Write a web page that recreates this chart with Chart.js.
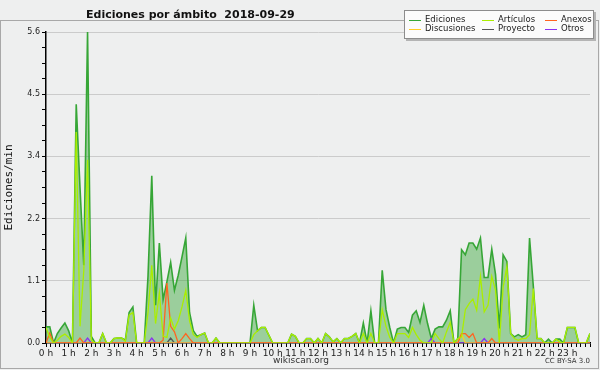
<!DOCTYPE html>
<html>
<head>
<meta charset="utf-8">
<script src="https://cdn.jsdelivr.net/npm/chart.js@4/dist/chart.umd.min.js"></script>
<style>
html,body{margin:0;padding:0;background:#eeefef;}
#wrap{position:relative;width:600px;height:370px;overflow:hidden;background:#eeefef;}
#c{position:absolute;left:0;top:0;}
#frame{position:absolute;left:0;top:20px;width:597px;height:347px;border:1px solid #a8a8a8;pointer-events:none;}
.t{position:absolute;white-space:nowrap;font-family:"DejaVu Sans",sans-serif;color:#222;}
#title{left:86px;top:8px;font-size:11px;font-weight:bold;color:#111;}
#legend{position:absolute;left:404px;top:10px;width:188px;height:27px;background:#fbfbfb;border:1px solid #8c8c8c;box-shadow:2px 2px 0 #b4b4b4;}
.li{position:absolute;height:10px;}
.ll{position:absolute;top:5px;width:12px;height:1px;}
.lt{position:absolute;left:16px;top:-1px;font-family:"DejaVu Sans",sans-serif;font-size:8.5px;color:#222;white-space:nowrap;}
#site{left:0;width:602px;text-align:center;top:355px;font-size:9px;color:#333;}
#lic{right:10px;top:357px;font-size:7px;color:#333;}
</style>
</head>
<body>
<div id="wrap">
<canvas id="c" width="600" height="370"></canvas>
<div id="frame"></div>
<div id="title" class="t"></div>
<div id="legend"></div>
<div id="site" class="t"></div>
<div id="lic" class="t"></div>
</div>
<script>
// ---- texts ----
const chartTitle = 'Ediciones por ámbito\u00a0\u00a02018-09-29';
const yTitle = 'Ediciones/min';
const siteText = 'wikiscan.org';
const licText = 'CC BY-SA 3.0';

// ---- series (one value every 10 minutes, 00:00 .. 24:00) ----
const seriesNames = ['Ediciones','Artículos','Anexos','Discusiones','Proyecto','Otros'];
const seriesColors = ['#36a636','#aaee00','#ff6420','#ffcc22','#555555','#8a30f0'];

const ediciones = [
 0.29,0.29,0,0.17,0.27,0.36,0.22,0,4.3,2.8,
 1.4,5.6,0.12,0,0,0.17,0,0,0.08,0.09,
 0.09,0.05,0.55,0.65,0,0,0,1.2,3.01,0.68,
 1.8,0.78,1.1,1.45,0.95,1.22,1.55,1.89,0.55,0.22,
 0.12,0.15,0.18,0,0,0.09,0,0,0,0,
 0,0,0,0,0,0.68,0.22,0.28,0.28,0.14,
 0,0,0,0,0,0.16,0.12,0,0,0.08,
 0.08,0,0.08,0,0.17,0.11,0.02,0.08,0,0.08,
 0.08,0.12,0.17,0,0.36,0,0.58,0,0,1.31,
 0.6,0.28,0,0.25,0.28,0.28,0.19,0.5,0.58,0.37,
 0.68,0.35,0.08,0.25,0.29,0.29,0.41,0.58,0,0.08,
 1.68,1.59,1.8,1.8,1.69,1.89,1.18,1.18,1.69,1.23,
 0.26,1.59,1.47,0.17,0.11,0.15,0.11,0.15,1.89,1.02,
 0.08,0.08,0,0.07,0,0.07,0.07,0,0.28,0.28,
 0.28,0,0,0,0.17
];
const articulos = [
 0.28,0.1,0,0.05,0.12,0.16,0.1,0,3.8,0.3,
 1.3,3.3,0.05,0,0,0.17,0,0,0.08,0.09,
 0.09,0.03,0.5,0.55,0,0,0,0.55,1.4,0.35,
 0.9,0.12,0.1,0.45,0.25,0.4,0.65,0.95,0.4,0.15,
 0.1,0.15,0.18,0,0,0.09,0,0,0,0,
 0,0,0,0,0,0.15,0.22,0.28,0.28,0.14,
 0,0,0,0,0,0.16,0.12,0,0,0.08,
 0.08,0,0.08,0,0.17,0.11,0.02,0.08,0,0.08,
 0.08,0.12,0.17,0,0.17,0,0.17,0,0,0.6,
 0.3,0.1,0,0.17,0.17,0.17,0.1,0.28,0.15,0.05,
 0,0,0,0.17,0.08,0,0.2,0.37,0,0.08,
 0.11,0.6,0.71,0.79,0.59,1.2,0.56,0.68,1.2,0.95,
 0,1.0,1.38,0.17,0.08,0.05,0.08,0.08,0.15,0.98,
 0.08,0.08,0,0,0,0.07,0.02,0,0.28,0.28,
 0.28,0,0,0,0.17
];
const anexos = [
 0,0.18,0,0,0,0,0,0,0,0.09,
 0,0,0,0,0,0,0,0,0,0,
 0,0,0,0,0,0,0,0,0,0,
 0,0.05,1.08,0.3,0.2,0,0.08,0.17,0.08,0,
 0,0,0,0,0,0,0,0,0,0,
 0,0,0,0,0,0,0,0,0,0,
 0,0,0,0,0,0,0,0,0,0,
 0,0,0,0,0,0,0,0,0,0,
 0,0,0,0,0,0,0,0,0,0,
 0,0,0,0,0,0,0,0,0,0,
 0,0,0,0,0,0,0,0,0,0,
 0.17,0.17,0.1,0.17,0,0,0,0,0.08,0,
 0,0,0,0,0,0,0,0,0,0,
 0,0,0,0,0,0,0,0,0,0,
 0,0,0,0,0
];
const discusiones = [
 0,0,0,0,0,0,0,0,0,0,
 0,0,0,0,0,0,0,0,0,0,
 0,0,0,0,0,0,0,0,0,0,
 0,0,0,0,0,0,0,0,0,0,
 0,0,0,0,0,0,0,0,0,0,
 0,0,0,0,0,0,0,0,0,0,
 0,0,0,0,0,0,0,0,0,0,
 0,0,0,0,0,0,0,0,0,0,
 0,0,0,0,0,0,0,0,0,0,
 0,0,0,0,0,0,0,0,0,0,
 0,0,0,0,0,0,0,0,0,0,
 0.17,0,0,0,0,0,0,0,0,0,
 0,0,0,0,0,0,0,0,0,0,
 0,0,0,0,0,0,0,0,0,0,
 0,0,0,0,0
];
const proyecto = [
 0,0,0,0,0,0,0,0,0,0,
 0,0,0,0,0,0,0,0,0,0,
 0,0,0,0,0,0,0,0,0,0,
 0,0,0,0.09,0,0,0,0,0,0,
 0,0,0,0,0,0,0,0,0,0,
 0,0,0,0,0,0,0,0,0,0,
 0,0,0,0,0,0,0,0,0,0,
 0,0,0,0,0,0,0,0,0,0,
 0,0,0,0,0,0,0,0,0,0,
 0,0,0,0,0,0,0,0,0,0,
 0,0,0,0,0,0,0,0,0,0,
 0,0,0,0,0,0,0,0,0,0,
 0,0,0,0,0,0,0,0,0,0,
 0,0,0,0,0,0,0,0,0,0,
 0,0,0,0,0
];
const otros = [
 0,0,0,0,0,0,0,0,0,0,
 0,0.09,0,0,0,0,0,0,0,0,
 0,0,0,0,0,0,0,0,0.09,0,
 0,0,0,0,0,0,0,0,0,0,
 0,0,0,0,0,0,0,0,0,0,
 0,0,0,0,0,0,0,0,0,0,
 0,0,0,0,0,0,0,0,0,0,
 0,0,0,0,0,0,0,0,0,0,
 0,0,0,0,0,0,0,0,0,0,
 0,0,0,0,0,0,0,0,0,0,
 0,0,0.08,0,0,0,0,0,0,0,
 0,0,0,0,0,0,0.08,0,0,0,
 0,0,0,0,0,0,0,0,0,0,
 0,0,0,0,0,0,0,0,0,0,
 0,0,0,0,0
];
const seriesValues = [ediciones, articulos, anexos, discusiones, proyecto, otros];

// time of each sample, in hours (10-minute steps)
const stepMinutes = 10;
const times = ediciones.map((_, i) => i * stepMinutes / 60);

// axis ticks
const xTicks = Array.from({length: 121}, (_, k) => k / 5);          // every 12 minutes
const yTicks = Array.from({length: 21}, (_, k) => Math.round(k * 28) / 100); // minor every 0.28
const yMax = 5.6;

// ---- texts into DOM ----
document.getElementById('title').textContent = chartTitle;
document.getElementById('site').textContent = siteText;
document.getElementById('lic').textContent = licText;
const leg = document.getElementById('legend');
const colX = [4, 77, 140];
const rowY = [4, 13];
seriesNames.forEach((name, i) => {
  const it = document.createElement('div');
  it.className = 'li';
  it.style.left = colX[i % 3] + 'px';
  it.style.top = rowY[Math.floor(i / 3)] + 'px';
  const ln = document.createElement('div');
  ln.className = 'll';
  ln.style.background = seriesColors[i];
  const tx = document.createElement('div');
  tx.className = 'lt';
  tx.textContent = name;
  it.appendChild(ln); it.appendChild(tx);
  leg.appendChild(it);
});

// ---- chart ----
const drawOrder = [6, 1, 2, 3, 5, 4];
const datasets = seriesNames.map((name, s) => ({
  label: name,
  data: seriesValues[s].map((v, i) => ({x: times[i], y: v})),
  borderColor: seriesColors[s],
  backgroundColor: s === 0 ? 'rgba(40,160,40,0.42)' : seriesColors[s],
  borderWidth: s === 0 ? 1.6 : 1.3,
  fill: s === 0 ? 'origin' : false,
  pointRadius: 0,
  tension: 0,
  order: drawOrder[s]
}));

new Chart(document.getElementById('c'), {
  type: 'line',
  data: {datasets},
  options: {
    responsive: false,
    devicePixelRatio: 1,
    animation: false,
    events: [],
    layout: {padding: {left: 0, top: 32, right: 10, bottom: 0}},
    plugins: {legend: {display: false}, tooltip: {enabled: false}, title: {display: false}},
    scales: {
      x: {
        type: 'linear', min: 0, max: 24,
        afterBuildTicks: ax => { ax.ticks = xTicks.map(v => ({value: v})); },
        afterFit: s => { s.height = 27; },
        ticks: {
          autoSkip: false, maxRotation: 0, minRotation: 0, padding: 1,
          font: {family: 'DejaVu Sans', size: 9}, color: '#222',
          callback: v => (Math.abs(v - Math.round(v)) < 1e-6 && v < 24) ? Math.round(v) + ' h' : ''
        },
        grid: {drawOnChartArea: false, tickLength: 4, tickColor: '#000', lineWidth: 1},
        border: {color: '#000', width: 1.5}
      },
      y: {
        min: 0, max: yMax,
        afterBuildTicks: ax => { ax.ticks = yTicks.map(v => ({value: v})); },
        afterFit: s => { s.width = 46; },
        ticks: {
          autoSkip: false, padding: 2,
          font: {family: 'DejaVu Sans', size: 8}, color: '#222',
          callback: (v, i) => (i % 4 === 0) ? v.toFixed(1) : ''
        },
        grid: {
          color: c => (c.index % 4 === 0 && c.index > 0) ? '#cbcbcb' : 'rgba(0,0,0,0)',
          tickColor: '#000', tickLength: 4, lineWidth: 1
        },
        border: {color: '#000', width: 1.5},
        title: {display: true, text: yTitle, color: '#111',
          font: {family: 'DejaVu Sans Mono', size: 11}, padding: {top: 3, bottom: 0}}
      }
    }
  }
});
</script>
</body>
</html>
